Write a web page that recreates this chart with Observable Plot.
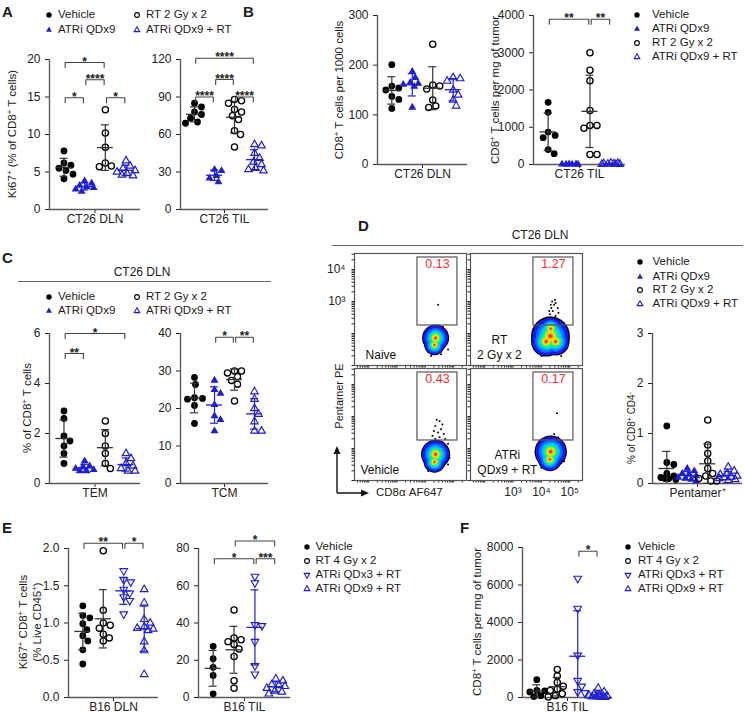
<!DOCTYPE html>
<html><head><meta charset="utf-8">
<script src="https://cdn.jsdelivr.net/npm/d3@7"></script>
<script src="https://cdn.jsdelivr.net/npm/@observablehq/plot@0.6"></script>
<style>
body{margin:0;background:#fff;}
#fig{position:relative;width:744px;height:713px;font-family:"Liberation Sans",Arial,Helvetica,sans-serif;color:#1a1a1a;overflow:hidden;background:#fff}
.abs{position:absolute;white-space:nowrap;line-height:1}
.ylab{position:absolute;white-space:nowrap;transform:translate(-50%,-50%) rotate(-90deg);font-size:11.5px;line-height:1.2;text-align:center}
.letter{position:absolute;font-weight:bold;font-size:15px;line-height:1}
sup{font-size:0.68em;vertical-align:0.5em;line-height:0}
</style></head><body><div id="fig"></div><script>
const FONT = '"Liberation Sans", Arial, Helvetica, sans-serif';
const BLUE = "#1f1fd2";
const AX = "#5a5a5a";

// ---------------- data ----------------
const ct26Legend = ["Vehicle", "ATRi QDx9", "RT 2 Gy x 2", "ATRi QDx9 + RT"];
const ct26Syms = ["filledCircle", "filledTri", "openCircle", "openTri"];
const b16Legend = ["Vehicle", "RT 4 Gy x 2", "ATRi QDx3 + RT", "ATRi QDx9 + RT"];
const b16Syms = ["filledCircle", "openCircle", "openTriDown", "openTri"];

// A: Ki67+ (% of CD8+ T cells)
const aDlnVehicle = [7.8, 6.2, 5.9, 5.5, 5.2, 4.7, 4.1];
const aDlnAtri = [3.8, 3.5, 3.2, 3.0, 2.9, 2.7, 2.4];
const aDlnRt = [13.3, 10.2, 8.3, 6.2, 5.8, 5.7];
const aDlnCombo = [6.5, 5.8, 5.5, 5.2, 5.0, 4.8, 4.6, 4.5];
const aDlnTicks = [0, 5, 10, 15, 20];
const aDlnBrackets = [[0, 2, 19.6, "*"], [1, 2, 17.3, "****"], [0, 1, 14.9, "*"], [2, 3, 14.9, "*"]];
const aTilVehicle = [85, 82, 78, 76, 73, 70, 69];
const aTilAtri = [32, 31, 27, 25, 22];
const aTilRt = [88, 87, 85, 80, 78, 75, 72, 63, 60, 50];
const aTilCombo = [52, 51, 45, 41, 38, 36, 33, 32, 31];
const aTilTicks = [0, 30, 60, 90, 120];
const aTilBrackets = [[0, 3, 121, "****"], [1, 2, 104, "****"], [0, 1, 90, "****"], [2, 3, 90, "****"]];

// B: CD8+ T cells
const bDlnVehicle = [201, 158, 154, 150, 137, 131, 113];
const bDlnAtri = [187, 175, 165, 163, 161, 157, 115];
const bDlnRt = [242, 160, 158, 152, 130, 118, 115];
const bDlnCombo = [175, 173, 168, 150, 140, 130, 118];
const bDlnTicks = [0, 100, 200, 300];
const bTilVehicle = [1670, 1400, 870, 780, 720, 400, 290];
const bTilAtri = [12, 8, 6, 5, 3, 2];
const bTilRt = [3000, 2530, 2250, 1450, 1050, 1050, 975, 270, 270];
const bTilCombo = [40, 32, 25, 20, 15, 10, 8, 5];
const bTilTicks = [0, 1000, 2000, 3000, 4000];
const bTilBrackets = [[0, 2, 3900, "**"], [2, 3, 3900, "**"]];

// C: % of CD8+ T cells, CT26 DLN
const cTemVehicle = [2.9, 2.6, 1.9, 1.7, 1.5, 1.2, 0.8];
const cTemAtri = [0.9, 0.7, 0.65, 0.6, 0.55, 0.5, 0.5];
const cTemRt = [2.5, 2.0, 1.5, 1.2, 0.8, 0.6];
const cTemCombo = [1.2, 1.0, 0.8, 0.7, 0.6, 0.5, 0.5];
const cTemTicks = [0, 2, 4, 6];
const cTemBrackets = [[0, 3, 6.0, "*"], [0, 1, 5.2, "**"]];
const cTcmVehicle = [28.3, 26.4, 22.9, 22.7, 22.5, 20.8, 16];
const cTcmAtri = [27.5, 25, 24, 21, 18, 17, 14];
const cTcmRt = [30, 30, 29.5, 28.5, 27.5, 26.5, 22];
const cTcmCombo = [24.5, 22.5, 20, 18.5, 16.5, 14, 14];
const cTcmTicks = [0, 10, 20, 30, 40];
const cTcmBrackets = [[1, 2, 39, "*"], [2, 3, 39, "**"]];

// D: pentamer+ (% of CD8+ CD4-)
const dVehicle = [1.15, 0.42, 0.38, 0.2, 0.15, 0.12, 0.1, 0.1, 0.08];
const dAtri = [0.3, 0.25, 0.2, 0.18, 0.15, 0.12, 0.1, 0.08, 0.05];
const dRt = [1.27, 0.77, 0.6, 0.45, 0.3, 0.2, 0.15, 0.1, 0.05, 0.05];
const dCombo = [0.33, 0.25, 0.2, 0.18, 0.15, 0.13, 0.12, 0.1, 0.08, 0.06];
const dTicks = [0, 1, 2, 3];
const flowPct = ["0.13", "1.27", "0.43", "0.17"];
const flowNames = [["Naive"], ["RT", "2 Gy x 2"], ["Vehicle"], ["ATRi", "QDx9 + RT"]];
const decadeLabels = {3: "10³", 4: "10⁴", 5: "10⁵"};
// blob circles [x (log10), y (log10), radius px]
const flowBlobs = [
  [[4.36, 1.86, 12.5], [4.32, 1.64, 9.5]],
  [[4.32, 1.92, 18], [4.17, 1.75, 14], [4.5, 1.75, 13], [4.33, 2.15, 11]],
  [[4.36, 1.82, 13.5], [4.32, 1.58, 10]],
  [[4.33, 1.9, 15], [4.3, 1.66, 11]]
];
// a few gated / outlying events [x, y]
const flowEvents = [
  [[4.45, 2.9], [4.62, 2.2], [4.15, 2.05], [4.75, 1.95], [4.0, 1.6], [4.8, 1.5], [4.55, 1.35], [4.2, 1.3], [4.7, 1.7], [4.05, 1.85]],
  [[4.2, 2.5], [4.3, 2.6], [4.4, 2.7], [4.5, 2.55], [4.35, 2.8], [4.45, 2.9], [4.25, 2.35], [4.55, 2.4], [4.6, 2.65], [4.4, 2.45], [4.3, 2.3], [4.5, 2.3], [4.15, 2.25], [4.65, 2.25], [4.38, 3.0], [4.48, 3.05], [4.28, 2.7], [4.58, 2.8], [4.2, 2.15], [4.7, 2.1], [4.42, 2.2], [3.8, 1.9], [4.85, 1.8], [3.85, 1.6], [4.9, 1.55], [4.0, 1.3], [4.7, 1.3], [4.5, 2.95], [4.33, 2.9]],
  [[4.4, 2.9], [4.5, 2.85], [4.35, 2.7], [4.55, 2.6], [4.6, 2.75], [4.3, 2.55], [4.45, 2.5], [4.65, 2.45], [4.25, 2.4], [4.5, 2.35], [4.7, 2.3], [4.35, 2.3], [4.6, 2.2], [4.8, 2.15], [4.2, 2.2], [4.75, 1.9], [4.85, 1.7], [3.95, 1.6], [4.8, 1.5], [4.1, 1.3]],
  [[4.55, 3.1], [4.45, 2.45], [4.6, 2.35], [4.3, 2.3], [4.7, 2.2], [3.9, 1.9], [4.8, 1.6], [4.0, 1.4], [4.75, 2.05], [3.95, 2.15]]
];
const flowGate = {x1: 3.72, x2: 5.13, y1: 2.25, y2: 4.375};

// E: Ki67+ CD8+ T cells (% Live CD45+)
const eDlnVehicle = [1.23, 1.1, 1.07, 0.99, 0.91, 0.83, 0.76, 0.64, 0.45];
const eDlnRt = [1.97, 1.17, 1.0, 0.97, 0.93, 0.85, 0.8, 0.76];
const eDlnQdx3 = [1.7, 1.58, 1.55, 1.45, 1.4, 1.35, 1.3, 1.12];
const eDlnQdx9 = [1.45, 1.27, 1.05, 1.0, 0.95, 0.93, 0.92, 0.9, 0.75, 0.63, 0.31];
const eDlnTicks = [0, 0.5, 1, 1.5, 2];
const eDlnBrackets = [[0, 2, 2.07, "**"], [2, 3, 2.07, "*"]];
const eTilVehicle = [27.5, 20.8, 16.2, 11.8, 2];
const eTilRt = [47, 32, 31, 30, 28.5, 26, 22, 9, 5];
const eTilQdx3 = [65, 61.5, 39, 38.5, 30, 17, 12.5];
const eTilQdx9 = [10, 9, 7, 6.5, 6, 5, 3.5, 3, 2];
const eTilTicks = [0, 20, 40, 60, 80];
const eTilBrackets = [[1, 3, 84, "*"], [0, 2, 74.5, "*"], [2, 3, 74.5, "***"]];

// F: CD8+ T cells per mg of tumor, B16 TIL
const fVehicle = [950, 380, 350, 300, 100, 50];
const fRt = [1500, 1150, 800, 600, 450, 380, 200, 100, 30];
const fQdx3 = [6350, 4750, 2250, 900, 600, 300, 250];
const fQdx9 = [500, 300, 200, 150, 100, 80, 60, 50, 40, 20, 10];
const fTicks = [0, 2000, 4000, 6000, 8000];
const fBrackets = [[2, 3, 7800, "*"]];

// ---------------- styles ----------------
const triDown = {draw(ctx, size) {
  const s3 = Math.sqrt(3), y = -Math.sqrt(size / (s3 * 3));
  ctx.moveTo(0, -y * 2); ctx.lineTo(-s3 * y, y); ctx.lineTo(s3 * y, y); ctx.closePath();
}};
const STYLE = {
  filledCircle: {symbol: d3.symbolCircle, fill: "#000", stroke: "none", r: 3.4, lr: 2.7, bar: "#333", sw: 1},
  filledTri: {symbol: d3.symbolTriangle, fill: BLUE, stroke: "none", r: 2.95, lr: 2.2, bar: BLUE, sw: 1},
  openCircle: {symbol: d3.symbolCircle, fill: "none", stroke: "#000", r: 3.1, lr: 2.4, bar: "#333", sw: 1.3},
  openTri: {symbol: d3.symbolTriangle, fill: "none", stroke: BLUE, r: 2.8, lr: 2.1, bar: BLUE, sw: 1.15},
  openTriDown: {symbol: triDown, fill: "none", stroke: BLUE, r: 2.8, lr: 2.1, bar: BLUE, sw: 1.15}
};
const plotStyle = {background: "none", overflow: "visible", fontSize: "12px", fontFamily: FONT, color: "#222"};
const fig = document.getElementById("fig");

function place(el, left, top) {
  el.style.position = "absolute"; el.style.left = left + "px"; el.style.top = top + "px";
  fig.appendChild(el);
}
function html(cls, left, top, content, extra) {
  const d = document.createElement("div");
  d.className = cls; d.innerHTML = content;
  d.style.left = left + "px"; d.style.top = top + "px";
  if (extra) Object.assign(d.style, extra);
  fig.appendChild(d); return d;
}

// simple beeswarm in pixel space
function swarm(ys, r) {
  const order = ys.map((_, i) => i).sort((a, b) => ys[a] - ys[b]);
  const placed = [], out = new Array(ys.length);
  const minD = 2 * r * 1.05, maxOff = 9;
  for (const i of order) {
    let best = 0, bestScore = -Infinity;
    for (let k = 0; k <= 2 * maxOff; k++) {
      const c = (k % 2 ? 1 : -1) * Math.ceil(k / 2) || 0;
      const d = placed.length ? Math.min(...placed.map(p => Math.hypot(p.x - c, p.y - ys[i]))) : Infinity;
      if (d >= minD) { best = c; break; }
      if (d > bestScore) { bestScore = d; best = c; }
    }
    placed.push({x: best, y: ys[i]}); out[i] = best;
  }
  return out;
}

function dotPanel(o) {
  const mL = 40, mR = 8, mT = 50, mB = 24;
  const w = o.right - o.left, h = o.y0 - o.yTop;
  const X0 = -0.7, X1 = 3.7;
  const pxX = w / (X1 - X0), pxY = h / o.ymax;
  const marks = [
    Plot.ruleX([X0], {y1: 0, y2: o.ymax, stroke: AX, strokeWidth: 1.4}),
    Plot.ruleY([0], {x1: X0, x2: X1, stroke: AX, strokeWidth: 1.4})
  ];
  const stats = [];
  o.series.forEach((vals, gi) => {
    const st = STYLE[o.syms[gi]];
    const offs = swarm(vals.map(v => -v * pxY), Math.max(st.r, 3.1));
    const pts = vals.map((v, i) => ({x: gi + offs[i] / pxX, y: v}));
    marks.push(Plot.dot(pts, {x: "x", y: "y", symbol: st.symbol, r: st.r, fill: st.fill, stroke: st.stroke, strokeWidth: st.sw}));
    stats.push({gi, m: d3.mean(vals), s: d3.deviation(vals), c: st.bar});
  });
  const cap = 4 / pxX, half = 8 / pxX;
  marks.push(
    Plot.ruleX(stats, {x: "gi", y1: d => Math.max(0, d.m - d.s), y2: d => d.m + d.s, stroke: "c", strokeWidth: 1.2}),
    Plot.ruleY(stats, {y: d => d.m + d.s, x1: d => d.gi - cap, x2: d => d.gi + cap, stroke: "c", strokeWidth: 1.2}),
    Plot.ruleY(stats.filter(d => d.m - d.s > 0), {y: d => d.m - d.s, x1: d => d.gi - cap, x2: d => d.gi + cap, stroke: "c", strokeWidth: 1.2}),
    Plot.ruleY(stats, {y: "m", x1: d => d.gi - half, x2: d => d.gi + half, stroke: "c", strokeWidth: 1.3})
  );
  if (o.brackets) {
    const tk = 5 / pxY, sh = 1.2 / pxX, bl = [];
    o.brackets.forEach((b, k) => {
      bl.push({k, x: b[0] + sh, y: b[2] - tk}, {k, x: b[0] + sh, y: b[2]}, {k, x: b[1] - sh, y: b[2]}, {k, x: b[1] - sh, y: b[2] - tk});
    });
    marks.push(
      Plot.line(bl, {x: "x", y: "y", z: "k", stroke: "#444", strokeWidth: 1.1}),
      Plot.text(o.brackets, {x: d => (d[0] + d[1]) / 2, y: d => d[2], text: d => d[3], dy: 3, lineAnchor: "bottom", fontSize: 12, fontWeight: "bold", fill: "#222"})
    );
  }
  const svg = Plot.plot({
    width: mL + w + mR, height: mT + h + mB,
    marginLeft: mL, marginRight: mR, marginTop: mT, marginBottom: mB,
    x: {domain: [X0, X1], ticks: [1.5], tickFormat: () => o.xlabel, tickSize: 4, tickPadding: 1, label: null},
    y: {domain: [0, o.ymax], ticks: o.ticks, tickFormat: o.fmt || (d => String(d)), tickSize: 4, label: null},
    color: {type: "identity"},
    style: plotStyle,
    marks
  });
  place(svg, o.left - mL, o.yTop - mT);
}

// flow panels
const FX = [1.5, 5.45], FY = [1, 4.5];
const flowXTicks = [], flowYTicks = [];
for (let d = 1; d <= 5; d++) for (let k = 1; k <= 9; k++) {
  const t = d + Math.log10(k);
  if (t >= FY[0] && t <= FY[1]) flowYTicks.push(t);
  if (t >= FX[0] && t <= FX[1]) flowXTicks.push(t);
}
const BLOB_LAYERS = [[1.08, "#000"], [1.0, "#1818ff"], [0.8, "#0a70ff"], [0.63, "#00bcff"], [0.49, "#00e4c0"], [0.38, "#40f060"], [0.29, "#d0f000"], [0.21, "#ffd000"], [0.14, "#ff7000"], [0.07, "#ff0000"]];
function flowPanel(i, left, top, opts) {
  const mL = 26, mR = 2, mT = 2, mB = 20, W = 112, H = 112;
  const circles = [];
  BLOB_LAYERS.forEach(L => flowBlobs[i].forEach(b => circles.push({x: b[0], y: b[1], r: b[2] * L[0], c: L[1]})));
  const names = flowNames[i];
  const textMarks = names.length === 1
    ? [Plot.text([names[0]], {x: opts.nameX, y: 1.31, text: d => d, textAnchor: "start", fontSize: 12, fill: "#111"})]
    : [Plot.text([names[0]], {x: opts.nameX, y: 1.8, text: d => d, fontSize: 12, fill: "#111"}),
       Plot.text([names[1]], {x: opts.nameX, y: 1.31, text: d => d, fontSize: 12, fill: "#111"})];
  const svg = Plot.plot({
    width: mL + W + mR, height: mT + H + mB,
    marginLeft: mL, marginRight: mR, marginTop: mT, marginBottom: mB,
    x: {domain: FX, ticks: flowXTicks, tickFormat: d => opts.xlab ? (decadeLabels[d] || "") : "", tickSize: 2.5, tickPadding: 4, label: null},
    y: {domain: FY, ticks: flowYTicks, tickFormat: d => opts.ylab ? (decadeLabels[d] || "") : "", tickSize: 2.5, label: null},
    r: {type: "identity"}, color: {type: "identity"},
    style: plotStyle,
    marks: [
      Plot.dot(flowEvents[i], {x: d => d[0], y: d => d[1], r: 1, fill: "#000"}),
      Plot.dot(circles, {x: "x", y: "y", r: "r", fill: "c", sort: null}),
      Plot.rect([flowGate], {x1: "x1", x2: "x2", y1: "y1", y2: "y2", fill: "none", stroke: "#555", strokeWidth: 1.2}),
      Plot.text([flowPct[i]], {x: (flowGate.x1 + flowGate.x2) / 2, y: 4.16, text: d => d, fill: "#ff2a2a", fontSize: 12.5}),
      ...textMarks,
      Plot.frame({stroke: "#555", strokeWidth: 1.2})
    ]
  });
  place(svg, left - mL, top - mT);
}

// legends
function symSvg(key) {
  const st = STYLE[key];
  const ns = "http://www.w3.org/2000/svg";
  const s = document.createElementNS(ns, "svg");
  s.setAttribute("width", 12); s.setAttribute("height", 12);
  const p = document.createElementNS(ns, "path");
  p.setAttribute("d", d3.symbol(st.symbol, Math.PI * st.lr * st.lr)());
  p.setAttribute("transform", "translate(6,6)");
  p.setAttribute("fill", st.fill); p.setAttribute("stroke", st.stroke); p.setAttribute("stroke-width", 1.1);
  s.appendChild(p); return s;
}
function legend(pos, syms, texts, tx) {
  pos.forEach((p, i) => {
    const s = symSvg(syms[i]);
    s.style.position = "absolute"; s.style.left = (p[0] - 6) + "px"; s.style.top = (p[1] - 6) + "px";
    fig.appendChild(s);
    html("abs", p[0] + tx, p[1], texts[i], {fontSize: "11.5px", transform: "translateY(-50%)"});
  });
}

// ---------------- build ----------------
// A
dotPanel({left: 49, right: 140, yTop: 59, y0: 209, ymax: 20, ticks: aDlnTicks, xlabel: "CT26 DLN",
  series: [aDlnVehicle, aDlnAtri, aDlnRt, aDlnCombo], syms: ct26Syms, brackets: aDlnBrackets});
dotPanel({left: 180, right: 268, yTop: 59, y0: 209, ymax: 120, ticks: aTilTicks, xlabel: "CT26 TIL",
  series: [aTilVehicle, aTilAtri, aTilRt, aTilCombo], syms: ct26Syms, brackets: aTilBrackets});
// B
dotPanel({left: 377, right: 467, yTop: 15, y0: 164, ymax: 300, ticks: bDlnTicks, xlabel: "CT26 DLN",
  series: [bDlnVehicle, bDlnAtri, bDlnRt, bDlnCombo], syms: ct26Syms});
dotPanel({left: 533, right: 625, yTop: 15, y0: 164, ymax: 4000, ticks: bTilTicks, xlabel: "CT26 TIL",
  series: [bTilVehicle, bTilAtri, bTilRt, bTilCombo], syms: ct26Syms, brackets: bTilBrackets});
// C
dotPanel({left: 49, right: 140, yTop: 333, y0: 483, ymax: 6, ticks: cTemTicks, xlabel: "TEM",
  series: [cTemVehicle, cTemAtri, cTemRt, cTemCombo], syms: ct26Syms, brackets: cTemBrackets});
dotPanel({left: 180, right: 268, yTop: 333, y0: 483, ymax: 40, ticks: cTcmTicks, xlabel: "TCM",
  series: [cTcmVehicle, cTcmAtri, cTcmRt, cTcmCombo], syms: ct26Syms, brackets: cTcmBrackets});
// D
dotPanel({left: 652, right: 742, yTop: 333, y0: 483, ymax: 3, ticks: dTicks, xlabel: "Pentamer⁺",
  series: [dVehicle, dAtri, dRt, dCombo], syms: ct26Syms});
flowPanel(0, 354, 253, {ylab: true, xlab: false, nameX: 1.89});
flowPanel(1, 470, 253, {ylab: false, xlab: false, nameX: 2.52});
flowPanel(2, 354, 368, {ylab: false, xlab: false, nameX: 1.71});
flowPanel(3, 470, 368, {ylab: false, xlab: true, nameX: 2.8});
// E
dotPanel({left: 68, right: 158, yTop: 548, y0: 697, ymax: 2, ticks: eDlnTicks, fmt: d3.format(".1f"), xlabel: "B16 DLN",
  series: [eDlnVehicle, eDlnRt, eDlnQdx3, eDlnQdx9], syms: b16Syms, brackets: eDlnBrackets});
dotPanel({left: 198, right: 290, yTop: 548, y0: 697, ymax: 80, ticks: eTilTicks, xlabel: "B16 TIL",
  series: [eTilVehicle, eTilRt, eTilQdx3, eTilQdx9], syms: b16Syms, brackets: eTilBrackets});
// F
dotPanel({left: 522, right: 612, yTop: 547, y0: 697, ymax: 8000, ticks: fTicks, xlabel: "B16 TIL",
  series: [fVehicle, fRt, fQdx3, fQdx9], syms: b16Syms, brackets: fBrackets});

// legends
legend([[49, 15], [49, 30], [137, 15], [137, 30]], ct26Syms, ct26Legend, 9);
legend([[637, 15], [637, 29], [637, 43], [637, 57]], ct26Syms, ct26Legend, 15);
legend([[49, 297], [49, 311], [137, 297], [137, 311]], ct26Syms, ct26Legend, 9);
legend([[640, 262], [640, 277], [640, 290], [640, 304]], ct26Syms, ct26Legend, 12.5);
legend([[307, 547], [307, 561], [307, 575], [307, 589]], b16Syms, b16Legend, 8.5);
legend([[628, 547], [628, 561], [628, 575], [628, 589]], b16Syms, b16Legend, 10);

// panel letters
[["A", 2, 4], ["B", 243, 4], ["C", 2, 250], ["D", 358, 218], ["E", 2, 520], ["F", 460, 520]]
  .forEach(([t, x, y]) => html("letter", x, y, t));

// y-axis titles
html("ylab", 13, 134, "Ki67<sup>+</sup> (% of CD8<sup>+</sup> T cells)");
html("ylab", 340, 90, "CD8<sup>+</sup> T cells per 1000 cells");
html("ylab", 496, 90, "CD8<sup>+</sup> T cells per mg of tumor");
html("ylab", 28, 408, "% of CD8<sup>+</sup> T cells");
html("ylab", 632, 428, "% of CD8<sup>+</sup> CD4<sup>-</sup>", {fontSize: "10px"});
html("ylab", 31, 622, "Ki67<sup>+</sup> CD8<sup>+</sup> T cells<br>(% Live CD45<sup>+</sup>)");
html("ylab", 478, 622, "CD8<sup>+</sup> T cells per mg of tumor");
html("ylab", 340, 396, "Pentamer PE", {fontSize: "11px"});

// group titles with rules
html("abs", 142, 272, "CT26 DLN", {fontSize: "12px", transform: "translate(-50%,-50%)"});
html("abs", 18, 281, "", {width: "253px", height: "0", borderTop: "1.2px solid #666"});
html("abs", 540, 235, "CT26 DLN", {fontSize: "12px", transform: "translate(-50%,-50%)"});
html("abs", 332, 245, "", {width: "411px", height: "0", borderTop: "1.2px solid #666"});

// flow axis arrows and label
html("abs", 376, 493, "CD8α AF647", {fontSize: "11.5px", transform: "translateY(-50%)"});
(function () {
  const ns = "http://www.w3.org/2000/svg";
  const s = document.createElementNS(ns, "svg");
  s.setAttribute("width", 40); s.setAttribute("height", 60);
  s.style.position = "absolute"; s.style.left = "332px"; s.style.top = "440px";
  s.innerHTML = '<path d="M5,53 L5,12 M5,53 L30,53" stroke="#111" stroke-width="1.4" fill="none"/>' +
    '<path d="M5,6 L1.5,14 L8.5,14 Z" fill="#111"/><path d="M37,53 L29,49.5 L29,56.5 Z" fill="#111"/>';
  fig.appendChild(s);
})();
</script></body></html>
